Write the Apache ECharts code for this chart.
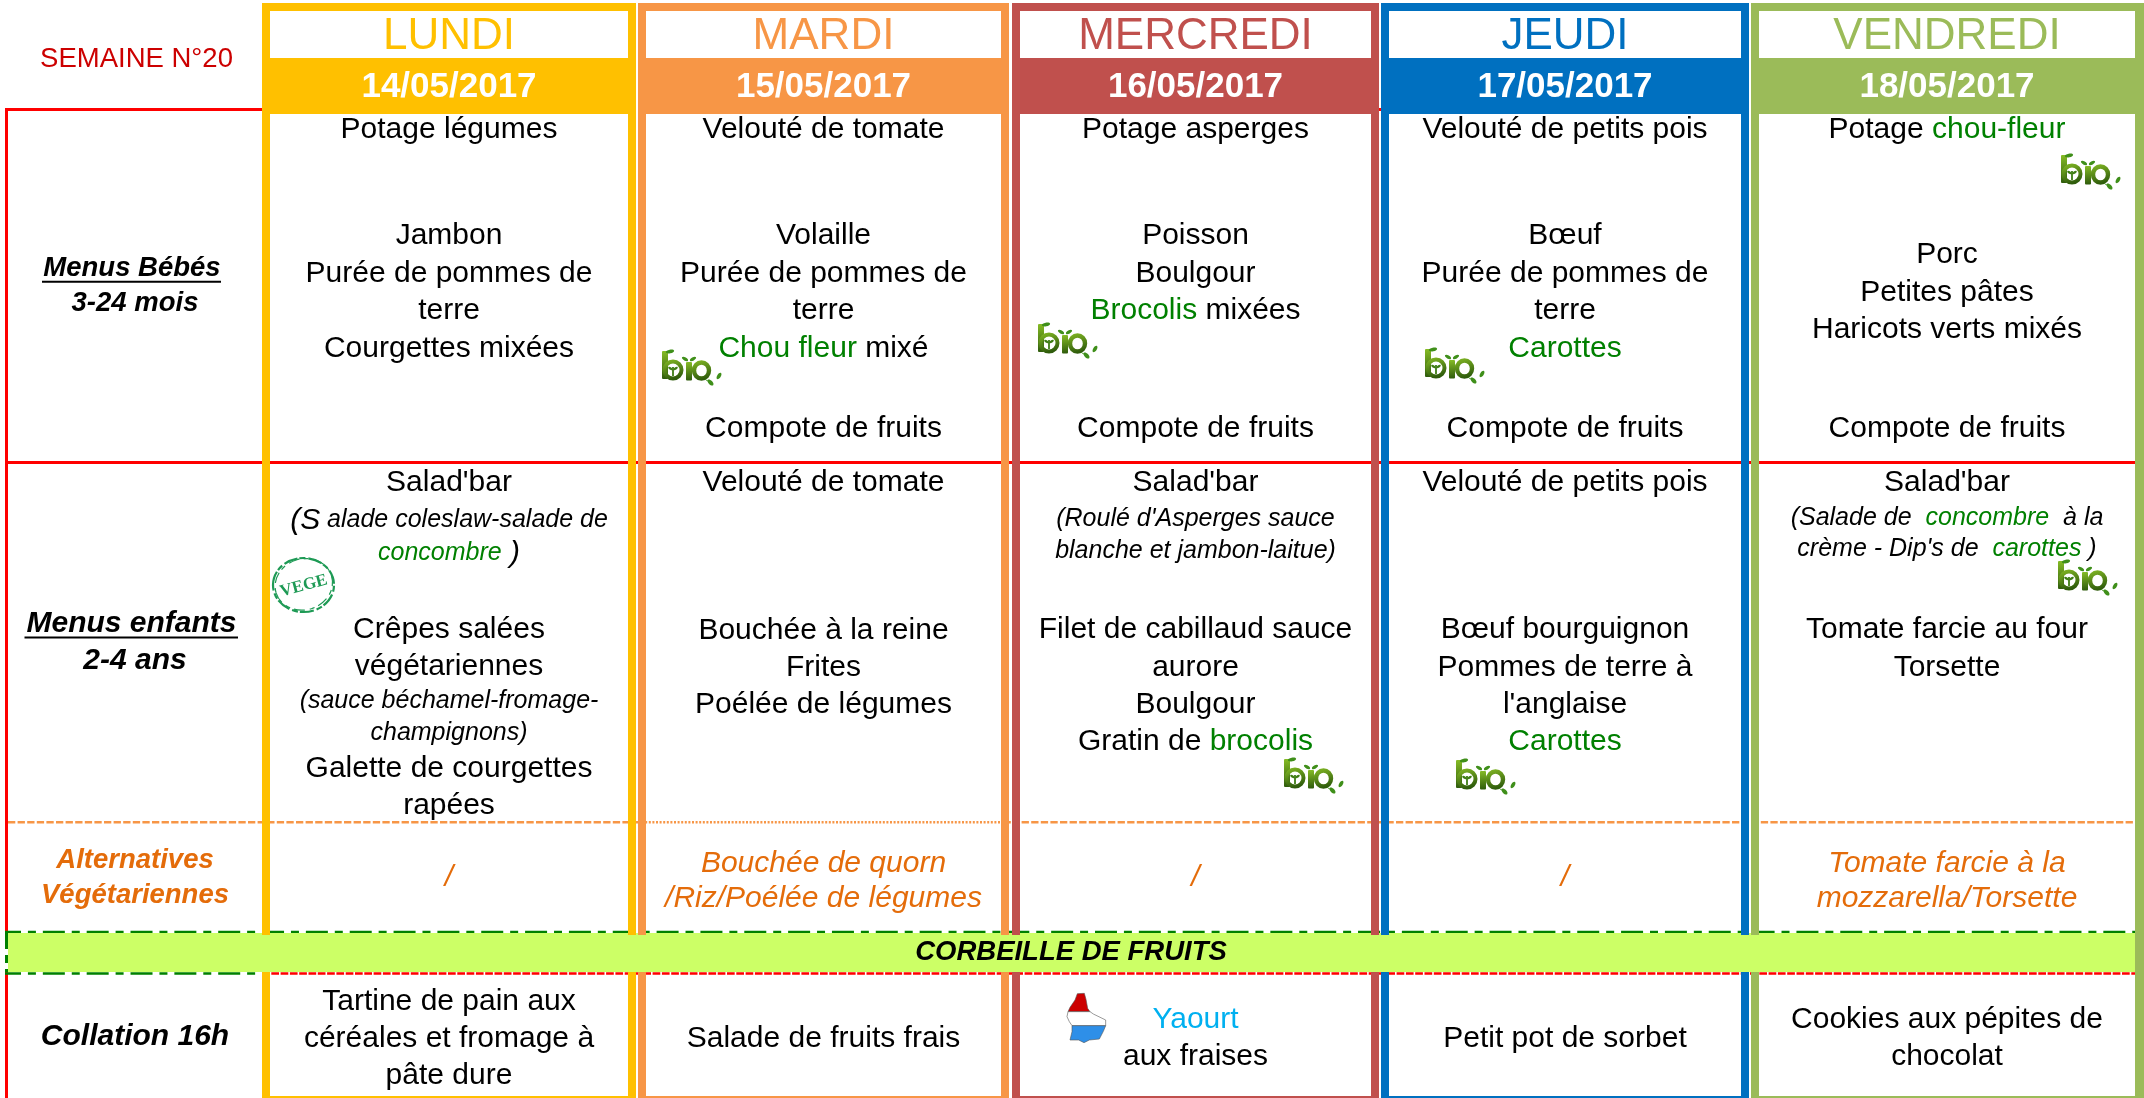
<!DOCTYPE html>
<html><head><meta charset="utf-8">
<style>html,body{margin:0;padding:0;background:#fff}#c{width:2144px;height:1098px}</style>
<script src="https://cdn.jsdelivr.net/npm/echarts@6/dist/echarts.min.js"></script>
</head><body><div id="c"></div>
<script>
// ---------- content ----------
const weekLabel = 'SEMAINE N°20';
const days = ['LUNDI','MARDI','MERCREDI','JEUDI','VENDREDI'];
const dates = ['14/05/2017','15/05/2017','16/05/2017','17/05/2017','18/05/2017'];
const babyMenus = [
  ['Potage légumes','Jambon','Purée de pommes de','terre','Courgettes mixées'],
  ['Velouté de tomate','Volaille','Purée de pommes de','terre','{g|Chou fleur} mixé','Compote de fruits'],
  ['Potage asperges','Poisson','Boulgour','{g|Brocolis} mixées','Compote de fruits'],
  ['Velouté de petits pois','Bœuf','Purée de pommes de','terre','{g|Carottes}','Compote de fruits'],
  ['Potage {g|chou-fleur}','Porc','Petites pâtes','Haricots verts mixés','Compote de fruits']
];
const kidMenus = [
  ["Salad'bar",'{bi|(S}{i| alade coleslaw-salade de}','{ig|concombre}{bi| )}','Crêpes salées','végétariennes','{i|(sauce béchamel-fromage-}','{i|champignons)}','Galette de courgettes','rapées'],
  ['Velouté de tomate','Bouchée à la reine','Frites','Poélée de légumes'],
  ["Salad'bar","{i|(Roulé d'Asperges sauce}",'{i|blanche et jambon-laitue)}','Filet de cabillaud sauce','aurore','Boulgour','Gratin de {g|brocolis}'],
  ['Velouté de petits pois','Bœuf bourguignon','Pommes de terre à',"l'anglaise",'{g|Carottes}'],
  ["Salad'bar",'{i|(Salade de  }{ig|concombre}{i|  à la}',"{i|crème - Dip's de  }{ig|carottes}{i| )}",'Tomate farcie au four','Torsette']
];
const veggieMenus = [['/'],['Bouchée de quorn','/Riz/Poélée de légumes'],['/'],['/'],['Tomate farcie à la','mozzarella/Torsette']];
const snackMenus = [
  ['Tartine de pain aux','céréales et fromage à','pâte dure'],
  ['Salade de fruits frais'],
  ['{c|Yaourt}','aux fraises'],
  ['Petit pot de sorbet'],
  ['Cookies aux pépites de','chocolat']
];
const bandLabel = 'CORBEILLE DE FRUITS';
const sideLabels = [['Menus Bébés','3-24 mois'],['Menus enfants','2-4 ans'],['Alternatives','Végétariennes'],['Collation 16h']];

// ---------- layout ----------
const colOuter = [[262,636],[638,1009],[1012,1379],[1381,1749],[1751,2144]];
const colInner = [[270,628],[646,1001],[1020,1371],[1389,1741],[1759,2135]];
const colColor = ['#FFC000','#F79646','#C0504D','#0070C0','#9BBB59'];
const babyY = [[138,244,282,319,357],[138,244,282,319,357,437],[138,244,282,319,437],[138,244,282,319,357,437],[138,263,301,338,437]];
const kidY = [[491,531,564,638,675,709.5,741,777,814],[491,638.5,676,713],[491,527,559,638,676,713,750],[491,638,676,713,750],[491,526,557,638,676]];
const veggieY = [[885],[871,906],[885],[885],[871,906]];
const snackY = [[1010,1047,1084],[1047],[1028,1065],[1047],[1028,1065]];
const sideY = [[275,310],[631.3,668.3],[867,902.5],[1045]];
const sideFont = [[27.5,27.5],[30,30],[27.5,27.5],[30]];
const bioSpots = [[662,350],[1038,323],[1425,348],[2061,154],[1284,758],[1456,759],[2058,560]];
const stampSpot = [303.5,585];
const flagSpot = [1060,990];

const FF = '"Liberation Sans"';
const GREEN = '#008000', ORANGE_T = '#E46C0A';
const richStyles = {
  g:{font:`30px ${FF}`,fill:GREEN},
  c:{font:`30px ${FF}`,fill:'#00B0F0'},
  i:{font:`italic 25px ${FF}`,fill:'#000'},
  bi:{font:`italic 30px ${FF}`,fill:'#000'},
  ig:{font:`italic 25px ${FF}`,fill:GREEN}
};

// ---------- build marks ----------
const rects = [], lines = [], texts = [];
const R = (x0,y0,x1,y1,fill)=>rects.push({x0,y0,x1,y1,fill});
const L = (x0,y0,x1,y1,stroke,lw,dash,off)=>lines.push({x0,y0,x1,y1,stroke,lw,dash,off});
const T = (x,y,text,font,fill,rich)=>texts.push({x,y,text,font,fill,rich});

const DASH = [7.3,2.3], DOT=[2,1.6], DASHDOT=[22,6.92,8,6.92];
// rules under the band
L(5,109.5,262,109.5,'#FF0000',3); L(1379,109.5,1381,109.5,'#FF0000',3);
L(5,462.5,2135,462.5,'#FF0000',3);
L(8,822.3,638,822.3,'#F79646',2.6,DASH); L(638,822.3,1012,822.3,'#F79646',2.6,DOT); L(1012,822.3,2135,822.3,'#F79646',2.6,DASH);
L(6.5,108,6.5,931,'#FF0000',3); L(6.5,972,6.5,1098,'#FF0000',3);
L(262,973.5,2135,973.5,'#FF0000',2.6,[7.7,1.6]);
L(5,932,2135,932,GREEN,2.4,DASHDOT,6);
L(5,973.5,262,973.5,GREEN,2.6,DASHDOT,6);
L(6.5,933,6.5,972,GREEN,3,[16,6,8,6]);
rects.push({x0:8,y0:933,x1:2135,y1:972,fill:'#CCFF66'});
// day frames
colOuter.forEach((o,i)=>{
  const n=colInner[i], c=colColor[i];
  R(o[0],3,o[1],11,c);
  R(o[0],58,o[1],114,c);
  R(o[0],3,n[0],935,c); R(o[0],972,n[0],1098,c);
  if(i<4){ R(n[1],3,o[1],935,c); R(n[1],972,o[1],1098,c); }
  else R(n[1],3,o[1],1098,c);
  R(o[0],1096,o[1],1098,c);
});
// underlines
R(42,280.7,221,282.7,'#000'); R(24.5,636.5,238,638.6,'#000');

// texts
const mid = i=>(colInner[i][0]+colInner[i][1])/2;
T(136.5,67,weekLabel,`27.5px ${FF}`,'#CC0000');
days.forEach((d,i)=>{ T(mid(i),48,d,`44px ${FF}`,colColor[i]); T(mid(i),96.7,dates[i],`bold 35px ${FF}`,'#FFFFFF'); });
const addMenu=(menus,ys,font,fill)=>menus.forEach((ls,i)=>ls.forEach((s,k)=>T(mid(i),ys[i][k],s,font,fill,richStyles)));
addMenu(babyMenus,babyY,`30px ${FF}`,'#000');
addMenu(kidMenus,kidY,`30px ${FF}`,'#000');
addMenu(veggieMenus,veggieY,`italic 30px ${FF}`,ORANGE_T);
addMenu(snackMenus,snackY,`30px ${FF}`,'#000');
sideLabels.forEach((ls,r)=>ls.forEach((s,k)=>T(r===0&&k===0?132:r===1&&k===0?131.5:135,sideY[r][k],s,`italic bold ${sideFont[r][k]}px ${FF}`,r===2?ORANGE_T:'#000')));
T(1071,959.6,bandLabel,`italic bold 27.5px ${FF}`,'#000');

// ---------- icons (local glyph drawing) ----------
const bioGrad = new echarts.graphic.LinearGradient(0,0,0.3,1,[{offset:0,color:'#86BC25'},{offset:1,color:'#2F5C0C'}]);
const leaf='#3F8F1A';
function bioIcon(p){
  return {type:'group',x:p[0],y:p[1],children:[
    {type:'rect',shape:{x:0,y:1,width:6,height:28,r:1},style:{fill:bioGrad}},
    {type:'ring',shape:{cx:11,cy:20,r:10.5,r0:6.5},style:{fill:bioGrad}},
    {type:'line',shape:{x1:11,y1:17,x2:11,y2:26},style:{stroke:'#3E7D14',lineWidth:1.8}},
    {type:'ellipse',shape:{cx:8.5,cy:18.5,rx:2.6,ry:1.3},rotation:-0.6,originX:8.5,originY:18.5,style:{fill:'#3E7D14'}},
    {type:'ellipse',shape:{cx:13.5,cy:18.5,rx:2.6,ry:1.3},rotation:0.6,originX:13.5,originY:18.5,style:{fill:'#3E7D14'}},
    {type:'ellipse',shape:{cx:8,cy:1.5,rx:4.2,ry:1.8},rotation:0.2,originX:8,originY:1.5,style:{fill:leaf}},
    {type:'rect',shape:{x:24,y:12,width:6,height:18.5,r:1},style:{fill:bioGrad}},
    {type:'ellipse',shape:{cx:23,cy:9,rx:3.4,ry:1.6},rotation:-0.5,originX:23,originY:9,style:{fill:leaf}},
    {type:'ellipse',shape:{cx:31,cy:9,rx:3.4,ry:1.6},rotation:0.5,originX:31,originY:9,style:{fill:leaf}},
    {type:'ellipse',shape:{cx:39.5,cy:20.5,rx:7.5,ry:8},style:{fill:'none',stroke:bioGrad,lineWidth:4.4}},
    {type:'bezierCurve',shape:{x1:43,y1:29,x2:47,y2:31,cpx1:44,cpy1:30,cpx2:45,cpy2:31},style:{fill:'none',stroke:leaf,lineWidth:1}},
    {type:'ellipse',shape:{cx:48.5,cy:32.5,rx:3.8,ry:2},rotation:-0.8,originX:48.5,originY:32.5,style:{fill:leaf}},
    {type:'ellipse',shape:{cx:57,cy:26,rx:3.6,ry:1.8},rotation:1.0,originX:57,originY:26,style:{fill:leaf}}
  ]};
}
function stampIcon(p){
  const col='#1E9A55';
  return {type:'group',x:p[0],y:p[1],children:[
    {type:'ellipse',shape:{cx:0,cy:0,rx:30.5,ry:27},style:{fill:'none',stroke:col,lineWidth:2.2,lineDash:[14,2,6,3]}},
    {type:'ellipse',shape:{cx:0.5,cy:-0.5,rx:29,ry:25.5},rotation:0.3,style:{fill:'none',stroke:col,lineWidth:1.2,lineDash:[5,5,11,4]}},
    {type:'text',rotation:0.26,style:{x:0,y:1,text:'VEGE',font:'bold 17px "Liberation Serif"',fill:col,align:'center',verticalAlign:'middle'}}
  ]};
}
function flagIcon(p){
  const s=1/3, pts=a=>a.map(q=>[q[0]*s,q[1]*s]);
  const red=pts([[24,65],[30,52],[45,30],[52,11],[73,10],[78,28],[83,55],[90,65]]);
  const white=pts([[24,65],[90,65],[100,72],[137,90],[137,107],[36,107],[28,95],[21,80]]);
  const blue=pts([[36,107],[137,107],[130,124],[118,147],[88,150],[72,158],[56,150],[30,150],[36,125]]);
  return {type:'group',x:p[0],y:p[1],children:[
    {type:'polygon',shape:{points:red},style:{fill:'#CC0000',stroke:'#555',lineWidth:0.6}},
    {type:'polygon',shape:{points:white},style:{fill:'#FFF',stroke:'#555',lineWidth:0.6}},
    {type:'polygon',shape:{points:blue},style:{fill:'#2E8FE8',stroke:'#555',lineWidth:0.6}}
  ]};
}

// ---------- chart ----------
const chart = echarts.init(document.getElementById('c'),null,{renderer:'canvas'});
const rectOf=(r,api)=>{const a=api.coord([r.x0,r.y0]),b=api.coord([r.x1,r.y1]);return {x:a[0],y:a[1],width:b[0]-a[0],height:b[1]-a[1]};};
const dropFor=t=>/^\{(i|ig|bi)\|/.test(t.text)?4.5:0.24*parseFloat(t.font.match(/([\d.]+)px/)[1]);
chart.setOption({
  animation:false,
  backgroundColor:'#fff',
  grid:{left:0,right:0,top:0,bottom:0,containLabel:false},
  xAxis:{type:'value',min:0,max:2144,show:false},
  yAxis:{type:'value',min:0,max:1098,inverse:true,show:false},
  tooltip:{show:false},
  series:[
    {type:'custom',name:'rules',silent:true,z:1,data:lines.map(l=>[l.x0,l.y0,l.x1,l.y1]),
     renderItem:(p,api)=>{const l=lines[p.dataIndex],a=api.coord([l.x0,l.y0]),b=api.coord([l.x1,l.y1]);
       return {type:'line',shape:{x1:a[0],y1:a[1],x2:b[0],y2:b[1]},style:{stroke:l.stroke,lineWidth:l.lw,lineDash:l.dash||null,lineDashOffset:l.off||0,fill:null}};}},
    {type:'custom',name:'blocks',silent:true,z:2,data:rects.map(r=>[r.x0,r.y0,r.x1,r.y1]),
     renderItem:(p,api)=>{const r=rects[p.dataIndex];return {type:'rect',shape:rectOf(r,api),style:{fill:r.fill}};}},
    {type:'custom',name:'bio',silent:true,z:3,data:bioSpots,
     renderItem:(p,api)=>bioIcon(api.coord([api.value(0),api.value(1)]))},
    {type:'custom',name:'vege',silent:true,z:3,data:[stampSpot],
     renderItem:(p,api)=>stampIcon(api.coord([api.value(0),api.value(1)]))},
    {type:'custom',name:'lux',silent:true,z:3,data:[flagSpot],
     renderItem:(p,api)=>flagIcon(api.coord([api.value(0),api.value(1)]))},
    {type:'custom',name:'text',silent:true,z:4,data:texts.map(t=>[t.x,t.y]),
     renderItem:(p,api)=>{const t=texts[p.dataIndex],a=api.coord([t.x,t.y]);
       const st={x:a[0],y:a[1]+dropFor(t),text:t.text,font:t.font,fill:t.fill,align:'center',verticalAlign:'bottom'};
       if(t.rich&&t.text.indexOf('{')>=0) st.rich=t.rich;
       return {type:'text',style:st};}}
  ]
});
</script></body></html>
